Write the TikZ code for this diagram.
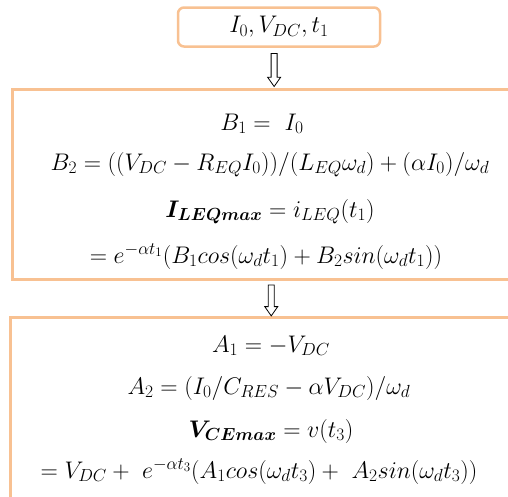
\RequirePackage{fix-cm}
\documentclass[tikz,border=0pt]{standalone}
\usepackage{amsmath}
\usepackage{bm}
\usetikzlibrary{shapes.arrows,calc}

\definecolor{peach}{RGB}{248,193,146}

\DeclareMathSizes{24}{24}{17.5}{13}
\providecommand{\EQsize}{\fontsize{24}{28}\selectfont}
\providecommand{\Yin}{27}
\providecommand{\Ybi}{130}
\providecommand{\Ybii}{170}
\providecommand{\Ybiii}{217}
\providecommand{\Ybiv}{263}
\providecommand{\Yai}{352}
\providecommand{\Yaii}{394}
\providecommand{\Yaiii}{437}
\providecommand{\Yaiv}{478}

\tikzset{
  frame/.style={rectangle, draw=peach, line width=2.5pt, inner sep=0pt},
  inbox/.style={frame, rounded corners=6pt,
                minimum width=202pt, minimum height=39pt},
  calcbox/.style={frame, anchor=north west, minimum width=540pt},
  eqline/.style={anchor=base, inner sep=0pt, font=\EQsize},
  downarrow/.style={single arrow, draw=black, line width=0.8pt, fill=white,
                    rotate=-90, inner xsep=0pt, inner ysep=2.6pt,
                    single arrow head extend=3.5pt, single arrow tip angle=70,
                    minimum height=33pt}
}

\begin{document}
\begin{tikzpicture}[x=1pt, y=-1pt]

\clip (0,0) rectangle (508,496);

\node (inputs) [inbox] at (279,\Yin) {};
\node (inputstxt) [eqline, anchor=center] at (279,\Yin) {$I_0, V_{DC}, t_1$};

% current stage
\node (stageB) [calcbox, minimum height=190pt] at (11,88) {};

\node (bi)   [eqline] at (262,\Ybi)   {$B_1 =\ I_0$};
\node (bii)  [eqline] at (270,\Ybii)  {$B_2 = ((V_{DC} - R_{EQ} I_0))/(L_{EQ}\omega_d) + (\alpha I_0)/\omega_d$};
\node (biii) [eqline] at (270,\Ybiii) {$\bm{I_{LEQmax}} = i_{LEQ}(t_1)$};
\node (biv)  [eqline] at (266,\Ybiv)  {$= e^{-\alpha t_1}(B_1 cos(\omega_d t_1) + B_2 sin(\omega_d t_1))$};

% voltage stage
\node (stageA) [calcbox, minimum height=200pt] at (9,316) {};

\node (ai)   [eqline] at (271,\Yai)   {$A_1 = -V_{DC}$};
\node (aii)  [eqline] at (269,\Yaii)  {$A_2 = (I_0/C_{RES} - \alpha V_{DC})/\omega_d$};
\node (aiii) [eqline] at (271,\Yaiii) {$\bm{V_{CEmax}} = v(t_3)$};
\node (aiv)  [eqline] at (259,\Yaiv)  {$= V_{DC} +\ e^{-\alpha t_3}(A_1 cos(\omega_d t_3) +\ A_2 sin(\omega_d t_3))$};

% Inputs -> current stage
\node (arrA) [downarrow] at ($(inputs.south)!0.5!(stageB.north)+(-6.5,0)$) {};

% Current stage -> voltage stage
\node (arrB) [downarrow, minimum height=31pt]
    at ($(stageB.south)!0.5!(stageA.north)+(-10,0)$) {};

\end{tikzpicture}
\end{document}
